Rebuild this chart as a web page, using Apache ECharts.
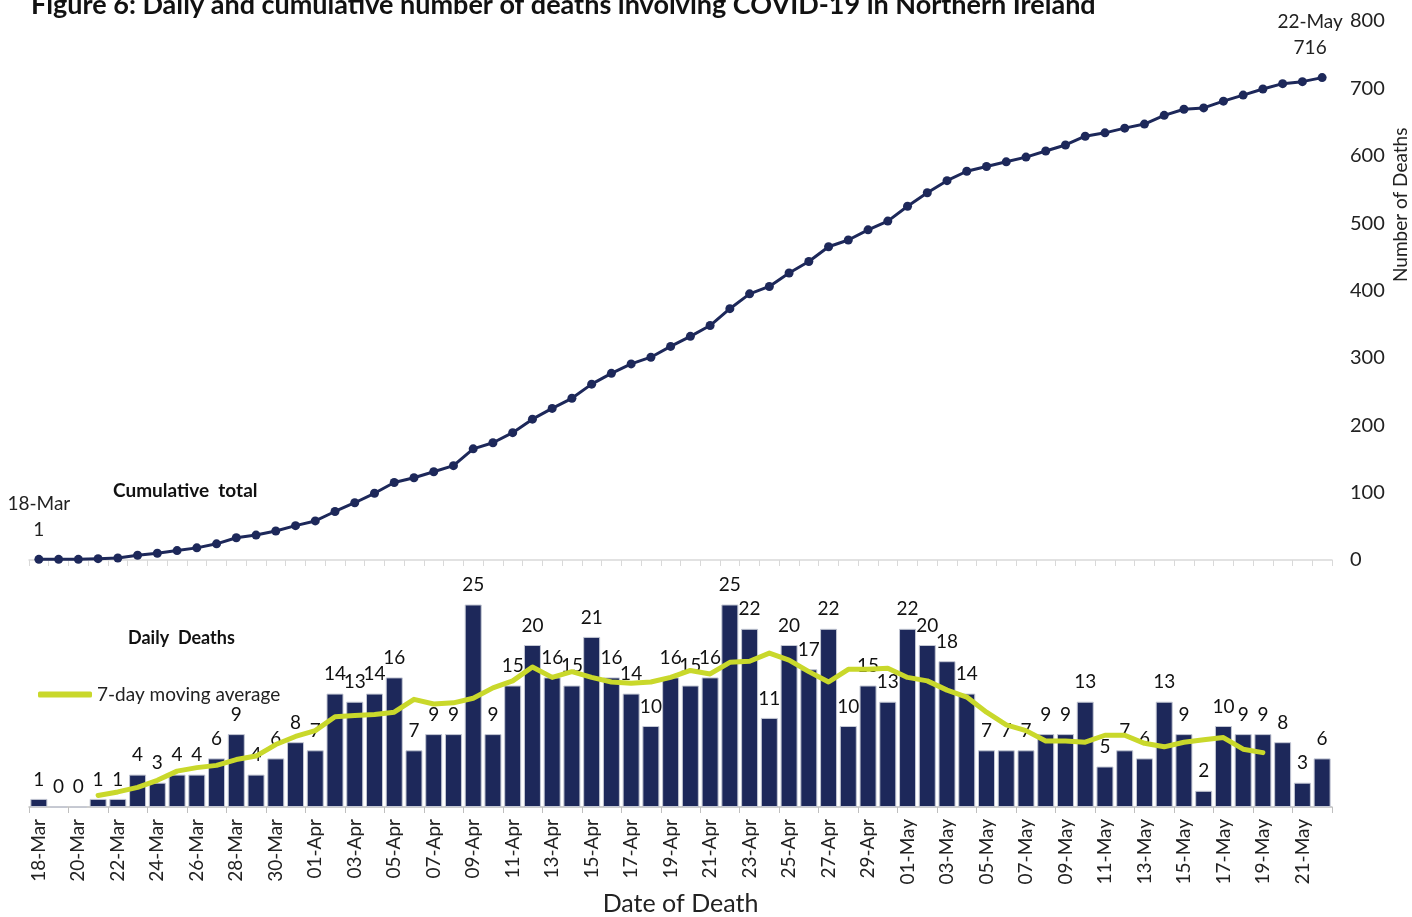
<!DOCTYPE html>
<html>
<head>
<meta charset="utf-8">
<script src="https://cdn.jsdelivr.net/npm/echarts@6/dist/echarts.min.js"></script>
<style>
  html, body { margin: 0; padding: 0; background: #fff; }
  #chart { width: 1412px; height: 917px; }
</style>
</head>
<body>
<div id="chart"></div>
<script>
// dates of death, 18-Mar to 22-May
const dates = [
  '18-Mar', '19-Mar', '20-Mar', '21-Mar', '22-Mar', '23-Mar', '24-Mar', '25-Mar', '26-Mar', '27-Mar', '28-Mar', '29-Mar', '30-Mar', '31-Mar',
  '01-Apr', '02-Apr', '03-Apr', '04-Apr', '05-Apr', '06-Apr', '07-Apr', '08-Apr', '09-Apr', '10-Apr', '11-Apr', '12-Apr', '13-Apr', '14-Apr', '15-Apr',
  '16-Apr', '17-Apr', '18-Apr', '19-Apr', '20-Apr', '21-Apr', '22-Apr', '23-Apr', '24-Apr', '25-Apr', '26-Apr', '27-Apr', '28-Apr', '29-Apr', '30-Apr',
  '01-May', '02-May', '03-May', '04-May', '05-May', '06-May', '07-May', '08-May', '09-May', '10-May', '11-May', '12-May', '13-May', '14-May', '15-May',
  '16-May', '17-May', '18-May', '19-May', '20-May', '21-May', '22-May'
]

const dailyDeaths = [
  1, 0, 0, 1, 1, 4, 3, 4, 4, 6, 9, 4, 6, 8,
  7, 14, 13, 14, 16, 7, 9, 9, 25, 9, 15, 20, 16, 15, 21,
  16, 14, 10, 16, 15, 16, 25, 22, 11, 20, 17, 22, 10, 15, 13,
  22, 20, 18, 14, 7, 7, 7, 9, 9, 13, 5, 7, 6, 13, 9,
  2, 10, 9, 9, 8, 3, 6
]

const cumulativeDeaths = [
  1, 1, 1, 2, 3, 7, 10, 14, 18, 24, 33, 37, 43, 51,
  58, 72, 85, 99, 115, 122, 131, 140, 165, 174, 189, 209, 225, 240, 261,
  277, 291, 301, 317, 332, 348, 373, 395, 406, 426, 443, 465, 475, 490, 503,
  525, 545, 563, 577, 584, 591, 598, 607, 616, 629, 634, 641, 647, 660, 669,
  671, 681, 690, 699, 707, 710, 716
]

// centred 7-day moving average ('-' where not shown)
const movingAverage = [
  '-', '-', '-', 1.43, 1.86, 2.43, 3.29, 4.43, 4.86, 5.14, 5.86, 6.29, 7.71, 8.71,
  9.43, 11.14, 11.29, 11.43, 11.71, 13.29, 12.71, 12.86, 13.43, 14.71, 15.57, 17.29, 16.0, 16.71, 16.0,
  15.43, 15.29, 15.43, 16.0, 16.86, 16.43, 17.86, 18.0, 19.0, 18.14, 16.71, 15.43, 17.0, 17.0, 17.14,
  16.0, 15.57, 14.43, 13.57, 11.71, 10.14, 9.43, 8.14, 8.14, 8.0, 8.86, 8.86, 7.86, 7.43, 8.0,
  8.29, 8.57, 7.14, 6.71, '-', '-', '-'
]

const cumTicks = [0, 100, 200, 300, 400, 500, 600, 700, 800]

const FONT = 'Lato, "Open Sans", sans-serif'
const NAVY = '#1d285a'
const GREEN = '#c9d82b'

const chart = echarts.init(document.getElementById('chart'))

const lastIdx = dates.length - 1
const cumData = cumulativeDeaths.map((v, i) => {
  if (i === 0 || i === lastIdx) {
    return {
      value: v,
      label: {
        show: true,
        position: 'top',
        distance: 12,
        offset: i === lastIdx ? [-12, 0] : [0, 0],
        formatter: dates[i] + '\n' + v,
        fontFamily: FONT,
        fontSize: 19,
        lineHeight: 26,
        color: '#222'
      }
    }
  }
  return v
})

const option = {
  animation: false,
  textStyle: { fontFamily: FONT },
  title: {
    text: 'Figure 6: Daily and cumulative number of deaths involving COVID-19 in Northern Ireland',
    left: 26,
    top: -13,
    textStyle: { fontFamily: FONT, fontSize: 27, fontWeight: 'bold', color: '#111' }
  },
  legend: {
    data: [{ name: '7-day moving average', icon: 'roundRect' }],
    left: 33,
    top: 680,
    itemWidth: 54,
    itemHeight: 6,
    itemGap: 6,
    textStyle: { fontFamily: FONT, fontSize: 19, color: '#222' }
  },
  graphic: [
    {
      type: 'text', left: 113, top: 481,
      style: { text: 'Cumulative  total', font: 'bold 19px ' + FONT, fill: '#111' }
    },
    {
      type: 'text', left: 128, top: 629,
      style: { text: 'Daily  Deaths', font: 'bold 18px ' + FONT, fill: '#111' }
    },
    {
      type: 'text', x: 1391, y: 282, rotation: Math.PI / 2,
      style: { text: 'Number of Deaths', font: '19px ' + FONT, fill: '#222' }
    }
  ],
  grid: [
    { left: 29, right: 80, top: 21, bottom: 357 },
    { left: 29, right: 80, top: 564, bottom: 105 }
  ],
  xAxis: [
    {
      type: 'category',
      gridIndex: 0,
      data: dates,
      boundaryGap: true,
      axisLine: { lineStyle: { color: '#d9d9d9', width: 1.5 } },
      axisTick: { show: true, interval: 0, length: 6, lineStyle: { color: '#d9d9d9' } },
      axisLabel: { show: false }
    },
    {
      type: 'category',
      gridIndex: 1,
      data: dates,
      boundaryGap: true,
      name: 'Date of Death',
      nameLocation: 'middle',
      nameGap: 84,
      nameTextStyle: { fontFamily: FONT, fontSize: 25, color: '#222' },
      axisLine: { lineStyle: { color: '#bfbfbf', width: 1.5 } },
      axisTick: { show: true, interval: 1, length: 6, lineStyle: { color: '#bfbfbf' } },
      axisLabel: {
        interval: 1,
        rotate: 90,
        margin: 12,
        fontFamily: FONT,
        fontSize: 19,
        color: '#222'
      }
    }
  ],
  yAxis: [
    {
      type: 'value',
      gridIndex: 0,
      position: 'right',
      min: cumTicks[0],
      max: cumTicks[cumTicks.length - 1],
      interval: 100,
      axisLine: { show: false },
      axisTick: { show: false },
      splitLine: { show: false },
      axisLabel: { margin: 18, fontFamily: FONT, fontSize: 20, color: '#222' }
    },
    {
      type: 'value',
      gridIndex: 1,
      min: 0,
      max: 30,
      show: false,
      splitLine: { show: false }
    }
  ],
  series: [
    {
      name: 'Cumulative total',
      type: 'line',
      xAxisIndex: 0,
      yAxisIndex: 0,
      data: cumData,
      symbol: 'circle',
      symbolSize: 9,
      lineStyle: { color: NAVY, width: 3 },
      itemStyle: { color: NAVY }
    },
    {
      name: 'Daily Deaths',
      type: 'bar',
      xAxisIndex: 1,
      yAxisIndex: 1,
      data: dailyDeaths,
      barWidth: 17,
      itemStyle: { color: NAVY, borderColor: '#c4c8d4', borderWidth: 1 },
      label: {
        show: true,
        position: 'top',
        distance: 10,
        fontFamily: FONT,
        fontSize: 19,
        color: '#111'
      }
    },
    {
      name: '7-day moving average',
      type: 'line',
      xAxisIndex: 1,
      yAxisIndex: 1,
      data: movingAverage,
      symbol: 'none',
      z: 3,
      lineStyle: { color: GREEN, width: 5, cap: 'round', join: 'round' },
      itemStyle: { color: GREEN }
    }
  ]
}

chart.setOption(option)
</script>
</body>
</html>
